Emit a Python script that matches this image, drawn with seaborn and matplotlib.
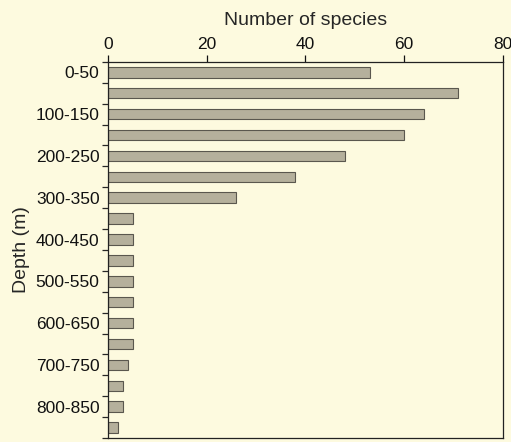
import matplotlib
matplotlib.use('Agg')
import matplotlib.pyplot as plt
import seaborn as sns
import pandas as pd
import numpy as np

# Depth bins (m) and number of species per bin
depths = ['0-50', '50-100', '100-150', '150-200', '200-250', '250-300',
          '300-350', '350-400', '400-450', '450-500', '500-550', '550-600',
          '600-650', '650-700', '700-750', '750-800', '800-850', '850-900']
species = [53, 71, 64, 60, 48, 38, 26, 5, 5, 5, 5, 5, 5, 5, 4, 3, 3, 2]

df = pd.DataFrame({'Depth': depths, 'Species': species})

sns.set_style('ticks')
plt.rcParams['font.family'] = ['Liberation Sans', 'DejaVu Sans']

bg = '#fdfadf'
fig = plt.figure(figsize=(5.11, 4.42), dpi=100, facecolor=bg)
ax = fig.add_axes([0.211, 0.009, 0.773, 0.851])
ax.set_facecolor(bg)

sns.barplot(data=df, x='Species', y='Depth', orient='h', ax=ax,
            color='#b5b09c', edgecolor='#5a574e', linewidth=0.8,
            width=0.5, saturation=1)

n = len(depths)
ax.set_xlim(0, 80)
ax.set_ylim(n - 0.5, -0.5)

# x axis on top
ax.xaxis.tick_top()
ax.xaxis.set_label_position('top')
ax.set_xticks([0, 20, 40, 60, 80])
ax.set_xlabel('Number of species', fontsize=14, labelpad=9)
ax.tick_params(axis='x', direction='out', length=5, width=0.9,
               labelsize=12.5, pad=2, colors='#111111')

# y ticks at bin boundaries, labels on every other bin
ax.set_yticks(np.arange(n + 1) - 0.5)
ax.set_yticklabels([])
ax.set_yticks(np.arange(0, n, 2), minor=True)
ax.set_yticklabels(depths[::2], minor=True)
ax.tick_params(axis='y', which='major', direction='out', length=4, width=0.9)
ax.tick_params(axis='y', which='minor', length=0, labelsize=12.5, pad=6,
               colors='#111111')
ax.set_ylabel('Depth (m)', fontsize=14, labelpad=4)

for s in ax.spines.values():
    s.set_visible(True)
    s.set_color('#222222')
    s.set_linewidth(0.9)

fig.savefig('out.png', dpi=100, facecolor=bg)
